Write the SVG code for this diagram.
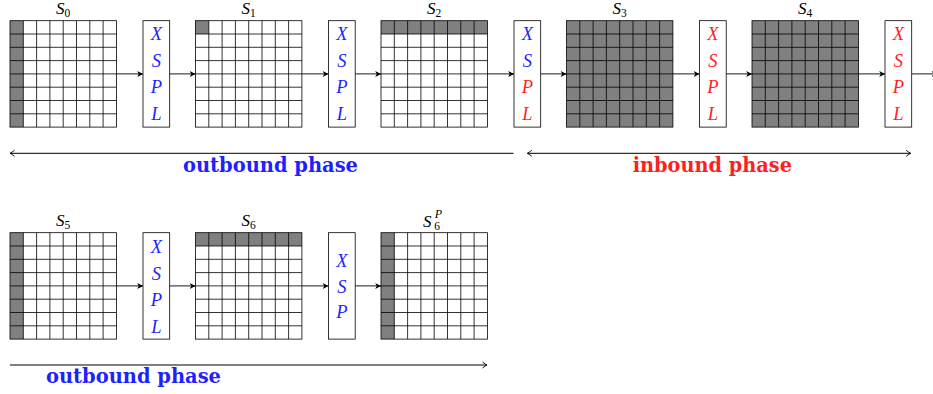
<svg xmlns="http://www.w3.org/2000/svg" xmlns:xlink="http://www.w3.org/1999/xlink" width="933" height="394" viewBox="0 0 933 394">
<style>
.gray{fill:#808080;stroke:none}
.gl{fill:none;stroke:#000;stroke-width:0.8}
.box{fill:#fff;stroke:#000;stroke-width:0.8}
.lab{font-family:"Liberation Serif","DejaVu Serif",serif;font-style:italic;font-size:17px;fill:#000}
.sub{font-size:11.5px;font-style:normal}
.xl{font-family:"Liberation Serif","DejaVu Serif",serif;font-style:italic;font-size:18.5px;text-anchor:middle}
.b{fill:#1f1fff}
.r{fill:#ff1f1f}
.conn{stroke:#000;stroke-width:0.9;fill:none}
.phase{stroke:#000;stroke-width:1;fill:none}
.ph{font-family:"DejaVu Serif","Liberation Serif",serif;font-weight:bold;font-size:20px}
</style>
<defs>
<g id="grid">
<rect x="0" y="0" width="106.4" height="106.4" class="gl"/>
<path class="gl" d="M13.3 0V106.4M26.6 0V106.4M39.9 0V106.4M53.2 0V106.4M66.5 0V106.4M79.8 0V106.4M93.1 0V106.4M0 13.3H106.4M0 26.6H106.4M0 39.9H106.4M0 53.2H106.4M0 66.5H106.4M0 79.8H106.4M0 93.1H106.4"/>
</g>
<marker id="ah" markerUnits="userSpaceOnUse" markerWidth="8" markerHeight="8" viewBox="-7 -4 8 8" refX="0" refY="0" orient="auto">
<path d="M0,0 L-5.8,-3 L-4.2,0 L-5.8,3 Z" fill="#000"/>
</marker>
<marker id="open" markerUnits="userSpaceOnUse" markerWidth="10" markerHeight="10" viewBox="-6 -5 7 10" refX="0" refY="0" orient="auto-start-reverse">
<path d="M-4.5,-3 Q-1.5,-0.6 0,0 Q-1.5,0.6 -4.5,3" fill="none" stroke="#000" stroke-width="0.9"/>
</marker>
</defs>
<rect width="933" height="394" fill="#fff"/>

<g id="connectors">
<line class="conn" x1="116.4" y1="73.9" x2="143" y2="73.9" marker-end="url(#ah)"/>
<line class="conn" x1="169.7" y1="73.9" x2="195.5" y2="73.9" marker-end="url(#ah)"/>
<line class="conn" x1="301.9" y1="73.9" x2="328.5" y2="73.9" marker-end="url(#ah)"/>
<line class="conn" x1="355.2" y1="73.9" x2="381" y2="73.9" marker-end="url(#ah)"/>
<line class="conn" x1="487.4" y1="73.9" x2="514" y2="73.9" marker-end="url(#ah)"/>
<line class="conn" x1="540.7" y1="73.9" x2="566.5" y2="73.9" marker-end="url(#ah)"/>
<line class="conn" x1="672.9" y1="73.9" x2="699.5" y2="73.9" marker-end="url(#ah)"/>
<line class="conn" x1="726.2" y1="73.9" x2="752" y2="73.9" marker-end="url(#ah)"/>
<line class="conn" x1="858.4" y1="73.9" x2="885" y2="73.9" marker-end="url(#ah)"/>
<line class="conn" x1="911.7" y1="73.9" x2="937.5" y2="73.9" marker-end="url(#ah)"/>
<line class="conn" x1="116.4" y1="285.9" x2="143" y2="285.9" marker-end="url(#ah)"/>
<line class="conn" x1="169.7" y1="285.9" x2="195.5" y2="285.9" marker-end="url(#ah)"/>
<line class="conn" x1="301.9" y1="285.9" x2="328.5" y2="285.9" marker-end="url(#ah)"/>
<line class="conn" x1="355.2" y1="285.9" x2="381" y2="285.9" marker-end="url(#ah)"/>
<line class="phase" x1="10" y1="153.3" x2="513.5" y2="153.3" marker-start="url(#open)"/>
<line class="phase" x1="527.3" y1="153.3" x2="910.7" y2="153.3" marker-start="url(#open)" marker-end="url(#open)"/>
<line class="phase" x1="10" y1="365" x2="487" y2="365" marker-end="url(#open)"/>
</g>

<g id="S0" transform="translate(10,20.7)">
<rect class="gray" x="0" y="0" width="13.3" height="106.4"/>
<use xlink:href="#grid"/>
<text class="lab" x="53.2" y="-6.7" text-anchor="middle">S<tspan class="sub" dy="2.5">0</tspan></text>
</g>
<g id="F1" transform="translate(143,20.7)">
<rect class="box" x="0" y="0" width="26.7" height="106.4"/>
<text class="xl b" x="13.35" y="19.8">X</text>
<text class="xl b" x="13.35" y="46.3">S</text>
<text class="xl b" x="13.35" y="72.8">P</text>
<text class="xl b" x="13.35" y="99.3">L</text>
</g>
<g id="S1" transform="translate(195.5,20.7)">
<rect class="gray" x="0" y="0" width="13.3" height="13.3"/>
<use xlink:href="#grid"/>
<text class="lab" x="53.2" y="-6.7" text-anchor="middle">S<tspan class="sub" dy="2.5">1</tspan></text>
</g>
<g id="F2" transform="translate(328.5,20.7)">
<rect class="box" x="0" y="0" width="26.7" height="106.4"/>
<text class="xl b" x="13.35" y="19.8">X</text>
<text class="xl b" x="13.35" y="46.3">S</text>
<text class="xl b" x="13.35" y="72.8">P</text>
<text class="xl b" x="13.35" y="99.3">L</text>
</g>
<g id="S2" transform="translate(381,20.7)">
<rect class="gray" x="0" y="0" width="106.4" height="13.3"/>
<use xlink:href="#grid"/>
<text class="lab" x="53.2" y="-6.7" text-anchor="middle">S<tspan class="sub" dy="2.5">2</tspan></text>
</g>
<g id="F3" transform="translate(514,20.7)">
<rect class="box" x="0" y="0" width="26.7" height="106.4"/>
<text class="xl b" x="13.35" y="19.8">X</text>
<text class="xl b" x="13.35" y="46.3">S</text>
<text class="xl r" x="13.35" y="72.8">P</text>
<text class="xl r" x="13.35" y="99.3">L</text>
</g>
<g id="S3" transform="translate(566.5,20.7)">
<rect class="gray" x="0" y="0" width="106.4" height="106.4"/>
<use xlink:href="#grid"/>
<text class="lab" x="53.2" y="-6.7" text-anchor="middle">S<tspan class="sub" dy="2.5">3</tspan></text>
</g>
<g id="F4" transform="translate(699.5,20.7)">
<rect class="box" x="0" y="0" width="26.7" height="106.4"/>
<text class="xl r" x="13.35" y="19.8">X</text>
<text class="xl r" x="13.35" y="46.3">S</text>
<text class="xl r" x="13.35" y="72.8">P</text>
<text class="xl r" x="13.35" y="99.3">L</text>
</g>
<g id="S4" transform="translate(752,20.7)">
<rect class="gray" x="0" y="0" width="106.4" height="106.4"/>
<use xlink:href="#grid"/>
<text class="lab" x="53.2" y="-6.7" text-anchor="middle">S<tspan class="sub" dy="2.5">4</tspan></text>
</g>
<g id="F5" transform="translate(885,20.7)">
<rect class="box" x="0" y="0" width="26.7" height="106.4"/>
<text class="xl r" x="13.35" y="19.8">X</text>
<text class="xl r" x="13.35" y="46.3">S</text>
<text class="xl r" x="13.35" y="72.8">P</text>
<text class="xl r" x="13.35" y="99.3">L</text>
</g>

<g id="S5" transform="translate(10,232.7)">
<rect class="gray" x="0" y="0" width="13.3" height="106.4"/>
<use xlink:href="#grid"/>
<text class="lab" x="53.2" y="-6.7" text-anchor="middle">S<tspan class="sub" dy="2.5">5</tspan></text>
</g>
<g id="F6" transform="translate(143,232.7)">
<rect class="box" x="0" y="0" width="26.7" height="106.4"/>
<text class="xl b" x="13.35" y="20.6">X</text>
<text class="xl b" x="13.35" y="47.1">S</text>
<text class="xl b" x="13.35" y="73.6">P</text>
<text class="xl b" x="13.35" y="100.1">L</text>
</g>
<g id="S6" transform="translate(195.5,232.7)">
<rect class="gray" x="0" y="0" width="106.4" height="13.3"/>
<use xlink:href="#grid"/>
<text class="lab" x="53.2" y="-6.7" text-anchor="middle">S<tspan class="sub" dy="2.5">6</tspan></text>
</g>
<g id="F7" transform="translate(328.5,232.7)">
<rect class="box" x="0" y="0" width="26.7" height="106.4"/>
<text class="xl b" x="13.35" y="34">X</text>
<text class="xl b" x="13.35" y="60.3">S</text>
<text class="xl b" x="13.35" y="85.6">P</text>
</g>
<g id="S6P" transform="translate(381,232.7)">
<rect class="gray" x="0" y="0" width="13.3" height="106.4"/>
<use xlink:href="#grid"/>
<text class="lab" x="42" y="-6.2">S</text>
<text class="lab sub" x="53.3" y="-3.2">6</text>
<text class="lab" style="font-size:12px" x="53.8" y="-14.4">P</text>
</g>

<g id="labels">
<text class="ph b" x="183" y="171.7" textLength="175" lengthAdjust="spacingAndGlyphs">outbound phase</text>
<text class="ph r" x="632.7" y="171.7" textLength="159.3" lengthAdjust="spacingAndGlyphs">inbound phase</text>
<text class="ph b" x="46" y="383.3" textLength="175" lengthAdjust="spacingAndGlyphs">outbound phase</text>
</g>
</svg>
